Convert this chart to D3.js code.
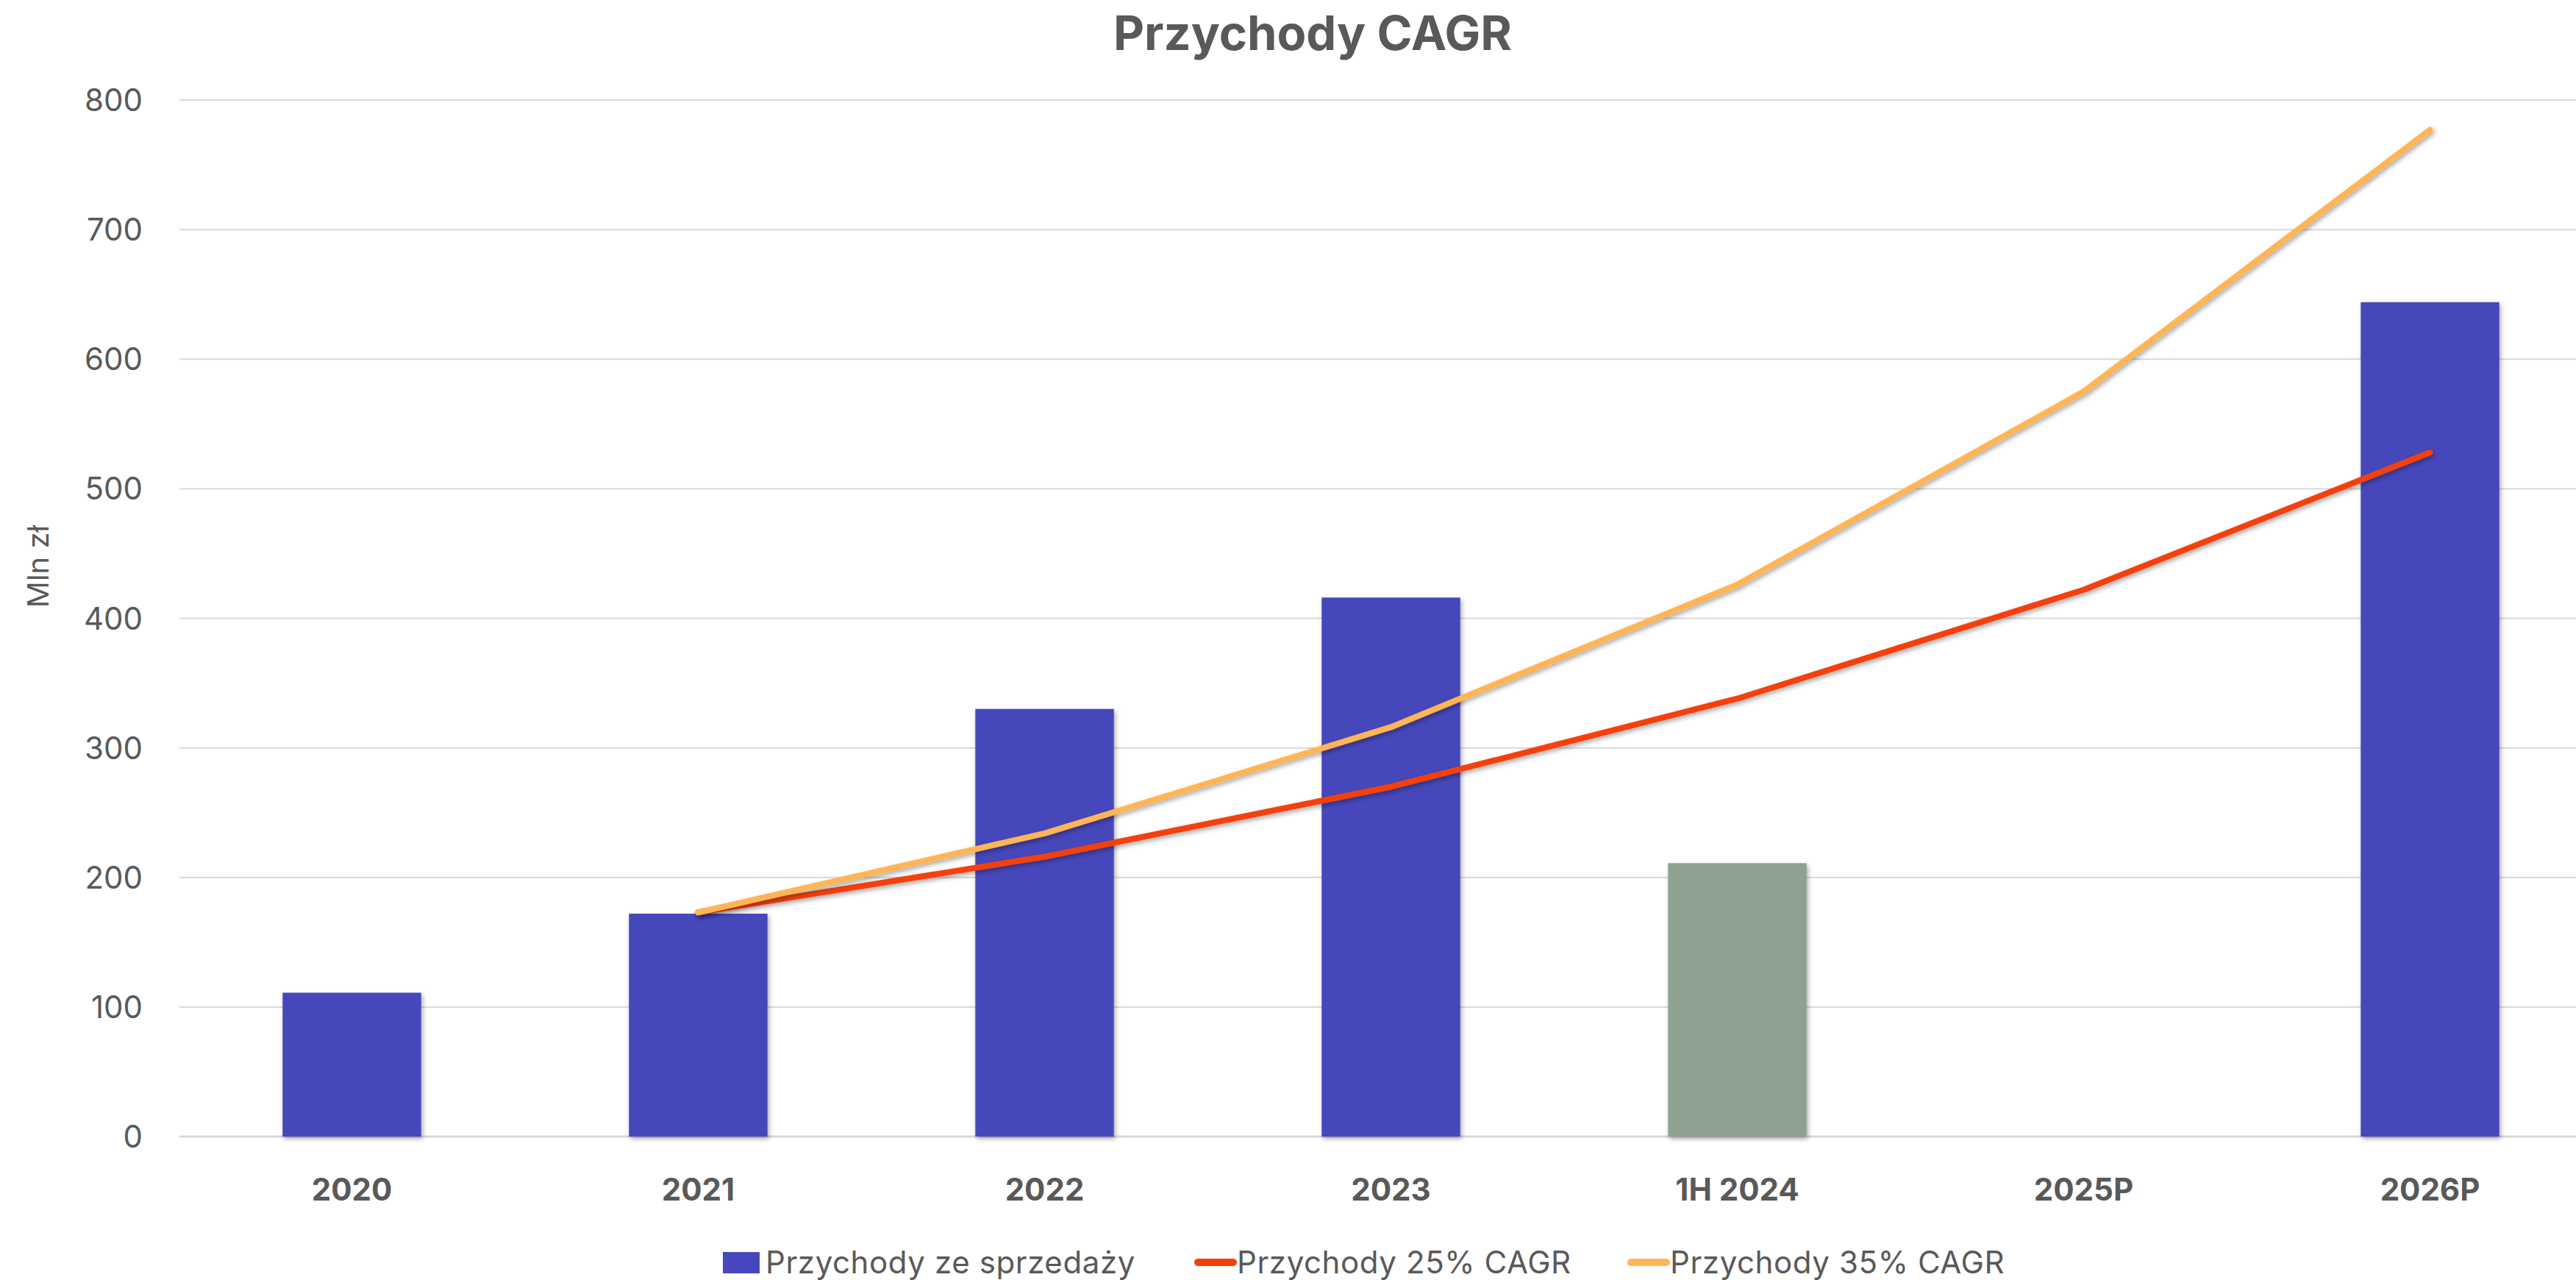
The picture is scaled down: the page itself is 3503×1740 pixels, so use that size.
<!DOCTYPE html>
<html>
<head>
<meta charset="utf-8">
<script src="https://cdn.jsdelivr.net/npm/d3@7"></script>
<style>
  body { margin: 0; background: #fff; }
  text { font-family: Inter, "Open Sans", sans-serif; fill: #595959; }
</style>
</head>
<body>
<div id="chart"></div>
<script>
var categories = ["2020", "2021", "2022", "2023", "1H 2024", "2025P", "2026P"];
var sales = [111, 172, 330, 416, 211, null, 644];
var cagr25 = [null, 173, 216, 270, 338, 422, 528];
var cagr35 = [null, 173, 234, 316, 426, 575, 777];
var yTicks = [0, 100, 200, 300, 400, 500, 600, 700, 800];
var legendNames = ["Przychody ze sprzedaży", "Przychody 25% CAGR", "Przychody 35% CAGR"];

var width = 3503, height = 1740;
var blue = "#4647bc", grey = "#8fa291", red = "#f4400b", orange = "#ffb554";

var svg = d3.select("#chart").append("svg")
    .attr("width", width)
    .attr("height", height);

var defs = svg.append("defs");
var f = defs.append("filter").attr("id", "shadow")
    .attr("x", "-20%").attr("y", "-20%").attr("width", "140%").attr("height", "140%");
f.append("feDropShadow").attr("dx", 2).attr("dy", 3).attr("stdDeviation", 3)
    .attr("flood-color", "#000").attr("flood-opacity", 0.35);

var x = d3.scaleBand()
    .domain(categories)
    .range([243, 3540])
    .paddingInner(0.6)
    .paddingOuter(0.3);
var y = d3.scaleLinear()
    .domain([0, 800])
    .range([1545, 136]);

// grid
svg.append("g").selectAll("line").data(yTicks).enter().append("line")
    .attr("x1", 244).attr("x2", width)
    .attr("y1", d => y(d)).attr("y2", d => y(d))
    .attr("stroke", "#d9d9d9")
    .attr("stroke-width", d => d == 0 ? 3 : 2);

// y axis labels
svg.append("g").selectAll("text").data(yTicks).enter().append("text")
    .attr("x", 194)
    .attr("y", d => y(d) + 15)
    .attr("text-anchor", "end")
    .attr("font-size", 42)
    .text(d => d);

svg.append("text")
    .attr("transform", "translate(66,770) rotate(-90)")
    .attr("text-anchor", "middle")
    .attr("font-size", 40)
    .text("Mln zł");

// bars
svg.append("g").selectAll("rect").data(categories.map((c, i) => [c, sales[i]]).filter(d => d[1] != null))
    .enter().append("rect")
    .attr("x", d => x(d[0]))
    .attr("y", d => y(d[1]))
    .attr("width", x.bandwidth())
    .attr("height", d => y(0) - y(d[1]))
    .attr("fill", d => d[0] == "1H 2024" ? grey : blue)
    .attr("filter", "url(#shadow)");

// lines
var line = d3.line()
    .defined(d => d[1] != null)
    .x(d => x(d[0]) + x.bandwidth() / 2)
    .y(d => y(d[1]));

[[cagr25, red], [cagr35, orange]].forEach(s => {
    svg.append("path")
        .datum(categories.map((c, i) => [c, s[0][i]]))
        .attr("d", line)
        .attr("fill", "none")
        .attr("stroke", s[1])
        .attr("stroke-width", 8)
        .attr("stroke-linecap", "round")
        .attr("stroke-linejoin", "round")
        .attr("filter", "url(#shadow)");
});

// x labels
svg.append("g").selectAll("text").data(categories).enter().append("text")
    .attr("x", d => x(d) + x.bandwidth() / 2)
    .attr("y", 1632)
    .attr("text-anchor", "middle")
    .attr("font-size", 42)
    .attr("font-weight", "bold")
    .text(d => d);

// title
svg.append("text")
    .attr("x", 1785)
    .attr("y", 68)
    .attr("text-anchor", "middle")
    .attr("font-size", 65)
    .attr("font-weight", "bold")
    .text("Przychody CAGR");

// legend
var legendX = [983, 1624, 2213];
var lg = svg.append("g");
legendNames.forEach((n, i) => {
    if (i == 0) {
        lg.append("rect").attr("x", legendX[i]).attr("y", 1702)
            .attr("width", 50).attr("height", 29).attr("fill", blue);
    } else {
        lg.append("line").attr("x1", legendX[i] + 5).attr("x2", legendX[i] + 53)
            .attr("y1", 1716).attr("y2", 1716)
            .attr("stroke", i == 1 ? red : orange)
            .attr("stroke-width", 10)
            .attr("stroke-linecap", "round");
    }
    lg.append("text")
        .attr("x", legendX[i] + 58)
        .attr("y", 1731)
        .attr("font-size", 42)
        .attr("letter-spacing", 0.6)
        .text(n);
});
</script>
</body>
</html>
